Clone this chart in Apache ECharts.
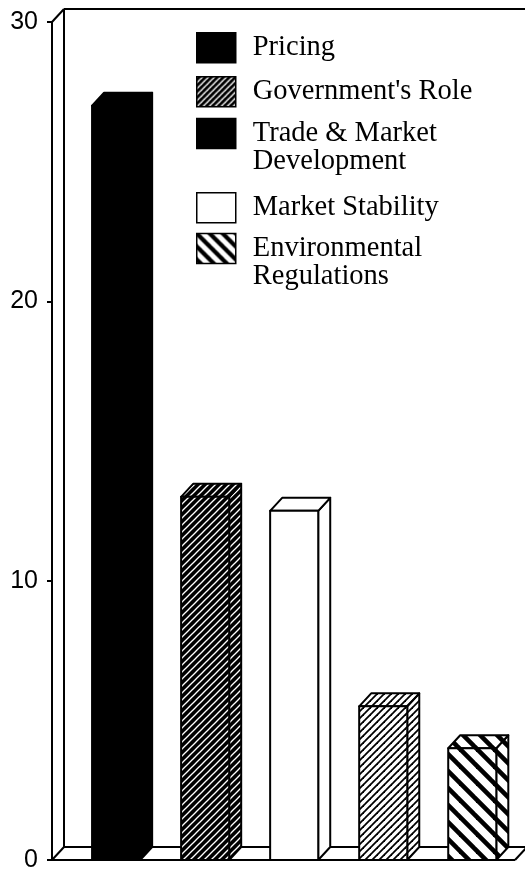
<!DOCTYPE html>
<html>
<head>
<meta charset="utf-8">
<script src="https://cdn.jsdelivr.net/npm/echarts@6/dist/echarts.min.js"></script>
<style>
  html, body { margin: 0; padding: 0; background: #fff; }
  #chart { width: 525px; height: 877px; }
</style>
</head>
<body>
<div id="chart"></div>
<script>
// Bars, left to right
const categories = ['Pricing', "Government's Role", 'Market Stability', 'Trade & Market Development', 'Environmental Regulations'];
const values = [27, 13, 12.5, 5.5, 4];

// Legend entries, top to bottom, and their displayed text
const legendNames = ['Pricing', "Government's Role", 'Trade & Market Development', 'Market Stability', 'Environmental Regulations'];
const legendLabels = ['Pricing', "Government's Role", 'Trade & Market\nDevelopment', 'Market Stability', 'Environmental\nRegulations'];

// Y axis ticks
const yTicks = [0, 10, 20, 30];

// ---- drawing helpers ----
const DEPTH_X = 12, DEPTH_Y = -13;     // oblique depth of the 3-D box
const X_MAX = 5.2;                     // x extent of the floor in bar slots
const BAR_OFFSET = 0.45, BAR_WIDTH = 0.54;

function stripes(period, lineW, bg, fg, dir) {
  const c = document.createElement('canvas');
  c.width = c.height = period;
  const g = c.getContext('2d');
  g.fillStyle = bg;
  g.fillRect(0, 0, period, period);
  g.strokeStyle = fg;
  g.lineWidth = lineW;
  const p = period;
  for (const off of [-p, 0, p]) {
    g.beginPath();
    if (dir === '/') { g.moveTo(off - p, 2 * p); g.lineTo(off + 2 * p, -p); }
    else { g.moveTo(off - p, -p); g.lineTo(off + 2 * p, 2 * p); }
    g.stroke();
  }
  return { image: c, repeat: 'repeat' };
}

const barFills = {
  'Pricing': '#000',
  "Government's Role": stripes(7, 1.3, '#000', '#fff', '/'),
  'Market Stability': '#fff',
  'Trade & Market Development': stripes(7, 1.8, '#fff', '#000', '/'),
  'Environmental Regulations': stripes(17, 4.6, '#fff', '#000', '\\')
};
const legendFills = {
  'Pricing': '#000',
  "Government's Role": stripes(6, 1.3, '#000', '#fff', '/'),
  'Trade & Market Development': '#000',
  'Market Stability': '#fff',
  'Environmental Regulations': stripes(13, 4.2, '#fff', '#000', '\\')
};

function renderFrame(params, api) {
  const o = api.coord([0, 0]);
  const t = api.coord([0, yTicks[yTicks.length - 1]]);
  const r = api.coord([X_MAX, 0]);
  const ln = (x1, y1, x2, y2) => ({
    type: 'line',
    shape: { x1, y1, x2, y2 },
    style: { stroke: '#000', lineWidth: 2 }
  });
  return {
    type: 'group',
    children: [
      ln(o[0], o[1], r[0], r[1]),                                        // front floor edge
      ln(o[0] + DEPTH_X, o[1] + DEPTH_Y, r[0] + DEPTH_X, r[1] + DEPTH_Y),  // back floor edge
      ln(o[0], o[1], o[0] + DEPTH_X, o[1] + DEPTH_Y),                    // left floor slant
      ln(r[0], r[1], r[0] + DEPTH_X, r[1] + DEPTH_Y),                    // right floor slant
      ln(o[0] + DEPTH_X, o[1] + DEPTH_Y, t[0] + DEPTH_X, t[1] + DEPTH_Y),  // back wall edge
      ln(t[0], t[1], t[0] + DEPTH_X, t[1] + DEPTH_Y),                    // top slant
      ln(t[0] + DEPTH_X, t[1] + DEPTH_Y, r[0] + DEPTH_X + 10, t[1] + DEPTH_Y) // top back edge
    ]
  };
}

function makeBarRenderer(fill) {
  return function (params, api) {
    const i = api.value(0), v = api.value(1);
    const a = api.coord([i + BAR_OFFSET, v]);
    const b = api.coord([i + BAR_OFFSET + BAR_WIDTH, 0]);
    const x0 = a[0], x1 = b[0], yt = a[1], yb = b[1];
    const style = { fill: fill, stroke: '#000', lineWidth: 2, lineJoin: 'round' };
    return {
      type: 'group',
      children: [
        { type: 'polygon', shape: { points: [[x1, yt], [x1 + DEPTH_X, yt + DEPTH_Y], [x1 + DEPTH_X, yb + DEPTH_Y], [x1, yb]] }, style },
        { type: 'polygon', shape: { points: [[x0, yt], [x0 + DEPTH_X, yt + DEPTH_Y], [x1 + DEPTH_X, yt + DEPTH_Y], [x1, yt]] }, style },
        { type: 'polygon', shape: { points: [[x0, yt], [x1, yt], [x1, yb], [x0, yb]] }, style }
      ]
    };
  };
}

const series = [{
  name: 'frame',
  type: 'custom',
  coordinateSystem: 'cartesian2d',
  silent: true,
  z: 1,
  data: [[0, 0]],
  renderItem: renderFrame
}];
categories.forEach((name, k) => {
  series.push({
    name: name,
    type: 'custom',
    coordinateSystem: 'cartesian2d',
    z: 3,
    itemStyle: { color: legendFills[name] },
    data: [[k, values[k]]],
    renderItem: makeBarRenderer(barFills[name])
  });
});

// Legend boxes: icon top positions, each entry its own block.
// Wrapped entries get a leading blank line so the first line sits beside the box.
const ICON_W = 39, ICON_H = 30, LINE_H = 28;
const legendIconTops = [32, 76, 118, 192, 233];
const legends = legendNames.map((name, k) => {
  const nLines = legendLabels[k].split('\n').length;
  const text = nLines > 1 ? '\n' + legendLabels[k] : legendLabels[k];
  const blockH = nLines > 1 ? (nLines + 1) * LINE_H : ICON_H;
  return {
    left: 196,
    top: legendIconTops[k] + ICON_H / 2 - blockH / 2,
    padding: 0,
    orient: 'vertical',
    selectedMode: false,
    itemWidth: ICON_W,
    itemHeight: ICON_H,
    itemStyle: { borderColor: '#000', borderWidth: 1.5 },
    data: [{ name: name, icon: 'rect', itemStyle: { color: legendFills[name], borderColor: '#000', borderWidth: 1.5 } }],
    formatter: () => text,
    textStyle: {
      fontFamily: 'Liberation Serif',
      fontSize: 28.5,
      color: '#000',
      lineHeight: LINE_H,
      padding: [0, 0, 0, 12]
    }
  };
});

const chart = echarts.init(document.getElementById('chart'), null, { renderer: 'canvas' });
chart.setOption({
  animation: false,
  backgroundColor: '#fff',
  grid: { left: 52, right: 10, top: 22, bottom: 17, containLabel: false, outerBoundsMode: 'none' },
  xAxis: { type: 'value', min: 0, max: X_MAX, show: false },
  yAxis: {
    type: 'value',
    min: yTicks[0],
    max: yTicks[yTicks.length - 1],
    interval: 10,
    axisLine: { show: true, lineStyle: { color: '#000', width: 2 } },
    axisTick: { show: true, inside: false, length: 5, lineStyle: { color: '#000', width: 2 } },
    splitLine: { show: false },
    axisLabel: { color: '#000', fontFamily: 'Liberation Sans', fontSize: 25, margin: 14 }
  },
  legend: legends,
  series: series
});
</script>
</body>
</html>
